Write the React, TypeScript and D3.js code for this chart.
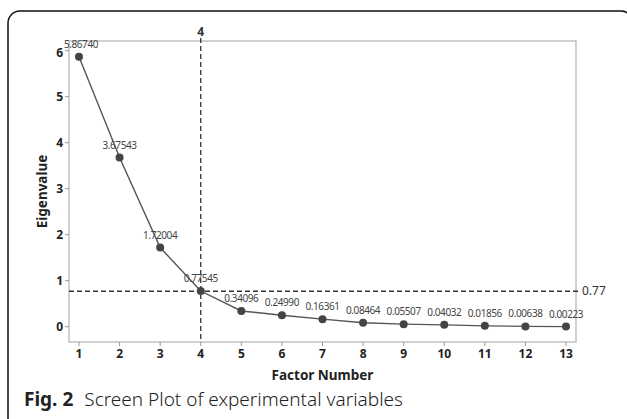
import React from "react";
import * as d3 from "d3";

const factors = [1, 2, 3, 4, 5, 6, 7, 8, 9, 10, 11, 12, 13];
const eigenvalues = [5.8674, 3.67543, 1.72004, 0.77545, 0.34096, 0.2499, 0.16361, 0.08464, 0.05507, 0.04032, 0.01856, 0.00638, 0.00223];
const valueLabels = ["5.86740", "3.67543", "1.72004", "0.77545", "0.34096", "0.24990", "0.16361", "0.08464", "0.05507", "0.04032", "0.01856", "0.00638", "0.00223"];
const yTicks = [0, 1, 2, 3, 4, 5, 6];
const refX = 4;
const refY = 0.77;

const W = 627, H = 419;
const left = 69, right = 576, top = 41, bottom = 342;
const FONT = "'Noto Sans', 'Open Sans', sans-serif";

export default function App() {
  const x = d3.scaleLinear().domain([0.754, 13.246]).range([left, right]);
  const y = d3.scaleLinear().domain([-0.333, 6.21]).range([bottom, top]);
  const line = d3.line<number>().x((_, i) => x(factors[i])).y((d) => y(d));
  return (
    <svg width={W} height={H} style={{ position: "absolute", left: 0, top: 0 }} fontFamily={FONT}>
      <rect x={0} y={0} width={W} height={H} fill="#fff" />
      <rect x={8} y={11} width={625} height={440} rx={12} fill="none" stroke="#111" strokeWidth={1.5} />
      <rect x={left} y={top} width={right - left} height={bottom - top} fill="none" stroke="#b8b8b8" strokeWidth={1.3} />
      {yTicks.map((t) => (
        <g key={"y" + t}>
          <line x1={left - 4} x2={left} y1={y(t)} y2={y(t)} stroke="#999" />
          <text x={left - 6} y={y(t) + (t === 6 ? 2 : 0)} dy="0.35em" textAnchor="end" fontSize={12} fontWeight="bold" fill="#222">{t}</text>
        </g>
      ))}
      {factors.map((f) => (
        <g key={"x" + f}>
          <line x1={x(f)} x2={x(f)} y1={bottom} y2={bottom + 4} stroke="#999" />
          <text x={x(f)} y={bottom + 16} textAnchor="middle" fontSize={12} fontWeight="bold" fill="#222">{f}</text>
        </g>
      ))}
      <line x1={x(refX)} x2={x(refX)} y1={top - 3} y2={bottom} stroke="#333" strokeWidth={1.3} strokeDasharray="5,3" />
      <text x={x(refX)} y={36} textAnchor="middle" fontSize={12} fontWeight="bold" fill="#333">4</text>
      <line x1={left} x2={right + 2} y1={y(refY)} y2={y(refY)} stroke="#333" strokeWidth={1.3} strokeDasharray="5,3" />
      <text x={right + 6} y={y(refY)} dy="0.35em" fontSize={12} fill="#333">0.77</text>
      <path d={line(eigenvalues) || ""} fill="none" stroke="#555" strokeWidth={1.4} />
      {eigenvalues.map((v, i) => (
        <g key={"p" + i}>
          <circle cx={x(factors[i])} cy={y(v)} r={4} fill="#444" />
          <text x={x(factors[i]) + (i === 0 ? 2 : 0)} y={y(v) - 9} textAnchor="middle" fontSize={10} letterSpacing={-0.4} fill="#444">{valueLabels[i]}</text>
        </g>
      ))}
      <text transform={`translate(47,${(top + bottom) / 2}) rotate(-90)`} textAnchor="middle" fontSize={13.5} fontWeight="bold" fill="#222">Eigenvalue</text>
      <text x={(left + right) / 2} y={380} textAnchor="middle" fontSize={13.5} fontWeight="bold" fill="#222">Factor Number</text>
      <text x={24} y={406} fontSize={19} fill="#222">
        <tspan fontWeight="bold">Fig. 2</tspan>
        <tspan dx={11} fontWeight={300}>Screen Plot of experimental variables</tspan>
      </text>
    </svg>
  );
}
